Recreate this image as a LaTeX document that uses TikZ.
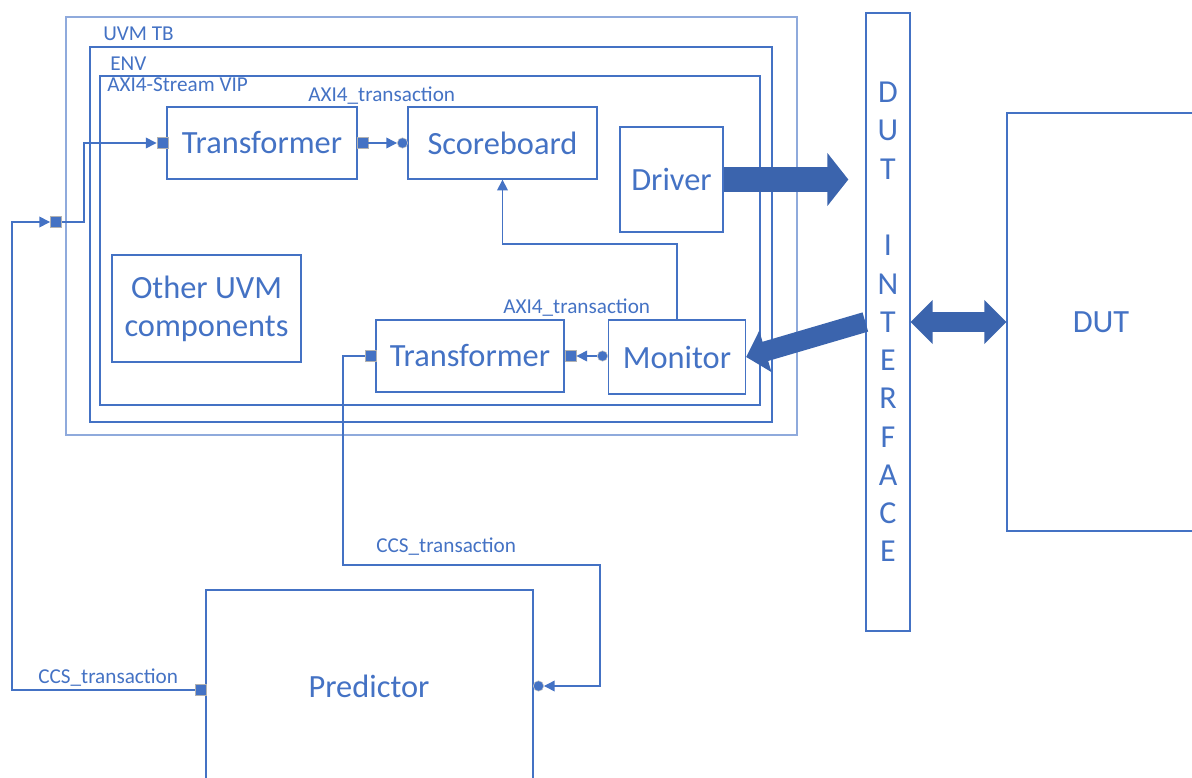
\documentclass[tikz,border=0pt]{standalone}
\usepackage{fontspec}
\setmainfont{Carlito}
\usetikzlibrary{arrows.meta}
\definecolor{ln}{HTML}{4472C4}
\definecolor{lt}{HTML}{8FAADC}
\definecolor{af}{HTML}{3B64AD}
\newcommand\bigf{\fontsize{24.3}{28.5}\selectfont}
\newcommand\smf{\fontsize{15.9}{18}\selectfont}
\begin{document}
\begin{tikzpicture}[x=0.75pt,y=-0.75pt,
  sz/.style 2 args={minimum width=#1*0.75pt, minimum height=#2*0.75pt},
  box/.style={draw=ln, line width=1pt, rectangle, inner sep=0pt, text=ln, font=\bigf, align=center},
  frame/.style={draw=ln, line width=1pt, rectangle, inner sep=0pt},
  lbl/.style={text=ln, font=\smf, inner sep=0pt, anchor=base west},
  port/.style={rectangle, fill=ln, draw=gray!60, line width=0.6pt, minimum size=8.3pt, inner sep=0pt},
  dot/.style={circle, fill=ln, draw=gray!45, line width=0.4pt, minimum size=7.8pt, inner sep=0pt},
  conn/.style={draw=ln, line width=1pt},
  tip/.style={-{Triangle[length=8pt,width=8pt]}},
  bigarrow/.style={draw=af, line width=#1}
]
\useasboundingbox (0,0) rectangle (1192,778);
\clip (0,0) rectangle (1192,778);

% containers
\node[frame, draw=lt, line width=1.5pt, sz={731}{418}] (uvmtb) at (431.5,226) {};
\node[frame, sz={682}{375}] (env) at (431,234.5) {};
\node[frame, sz={660}{329}] (vip) at (430,240.5) {};
\node[lbl] (uvmtbl) at (103,40) {UVM TB};
\node[lbl] (envl) at (110,70) {ENV};
\node[lbl] (vipl) at (107,91) {AXI4-Stream VIP};

% components
\node[box, sz={190}{72}] (tr1) at (262,143) {Transformer};
\node[box, sz={189}{72}] (sb) at (502.5,143) {Scoreboard};
\node[box, sz={103}{105}] (drv) at (671.5,179.5) {Driver};
\node[box, sz={189}{107}] (other) at (206.5,308.5) {Other UVM\\components};
\node[box, sz={188}{72}] (tr2) at (470,356) {Transformer};
\node[box, sz={137}{74}] (mon) at (677,357) {Monitor};
\node[box, sz={44}{618}, font=\fontsize{24}{28.7}\selectfont] (dutif) at (888,322)
  {D\\U\\T\\\mbox{}\\I\\N\\T\\E\\R\\F\\A\\C\\E};
\node[box, sz={213}{418}] (dut) at (1113.5,322) {};
\node[text=ln, font=\bigf] (dutl) at (1101,322) {DUT};
\node[box, sz={327}{210}] (pred) at (369.5,695) {};
\node[text=ln, font=\bigf] (predl) at (369,686) {Predictor};

% labels
\node[lbl] (axt1) at (308,101) {AXI4\_transaction};
\node[lbl] (axt2) at (503,313) {AXI4\_transaction};
\node[lbl] (ccs1) at (376,552) {CCS\_transaction};
\node[lbl] (ccs2) at (38,683) {CCS\_transaction};

% ports
\node[port] (p1) at (56,222) {};
\node[port] (p2) at (162.5,143) {};
\node[port] (p3) at (362.5,143) {};
\node[dot] (c1) at (402.5,143) {};
\node[port] (p4) at (370.5,356) {};
\node[port] (p5) at (570.5,356) {};
\node[dot] (c2) at (602.5,356) {};
\node[port] (p6) at (200.5,690) {};
\node[dot] (c3) at (538.5,686) {};

% connectors
\coordinate (lx) at (12,400);
\coordinate (jx) at (84,180);
\coordinate (my) at (600,244);
\coordinate (b1) at (343,565);
\coordinate (b2) at (600,565);
\draw[conn,tip] (p6.west) -| (lx) |- (p1.west);
\draw[conn,tip] (p1.east) -| (jx) |- (p2.west);
\draw[conn,tip] (p3.east) -- (c1.west);
\draw[conn,tip] (c2.west) -- (p5.east);
\draw[conn,tip] (mon.north) |- (my) -| (sb.south);
\draw[conn,tip] (p4.west) -| (b1) -- (b2) |- (c3.east);

% big arrows
\draw[bigarrow=18.75pt, -{Triangle[length=15.75pt,width=39pt]}, shorten >=12.75pt]
  (drv.east) -- (drv.east -| dutif.west);
\draw[bigarrow=15pt, {Triangle[length=16.5pt,width=32pt]}-{Triangle[length=16.5pt,width=32pt]}]
  (dutif.east) -- (dut.west);
\draw[bigarrow=15pt, -{Triangle[length=15pt,width=31.5pt]}]
  (dutif.west) -- (mon.east);
\end{tikzpicture}
\end{document}
